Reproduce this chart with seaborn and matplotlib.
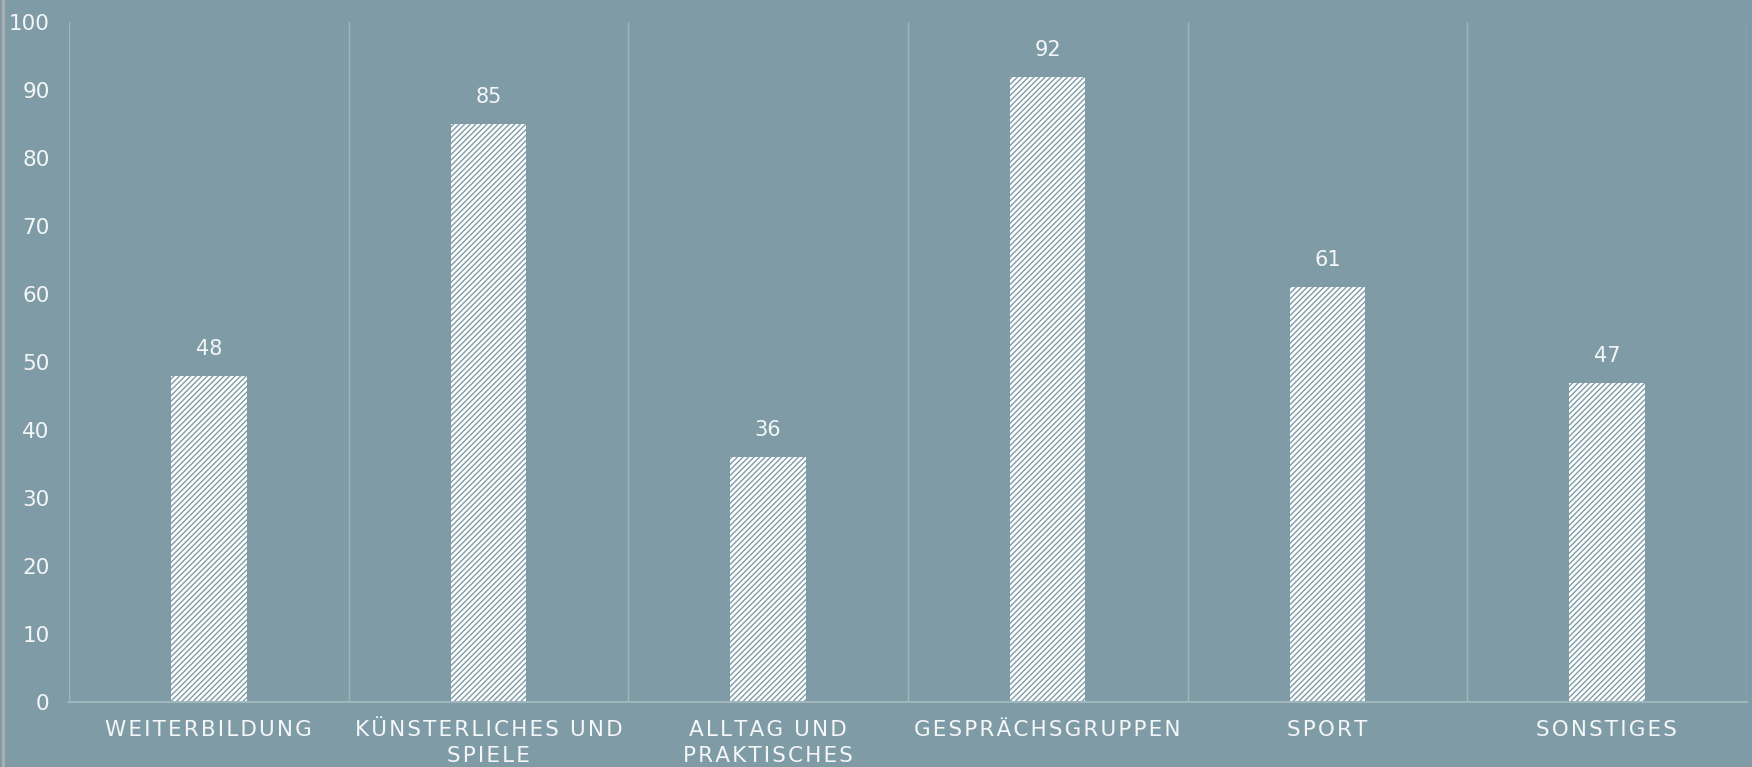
import pandas as pd
import matplotlib.pyplot as plt
import seaborn as sns

categories = ["WEITERBILDUNG", "KÜNSTERLICHES UND\nSPIELE", "ALLTAG UND\nPRAKTISCHES",
              "GESPRÄCHSGRUPPEN", "SPORT", "SONSTIGES"]
values = [48, 85, 36, 92, 61, 47]

bg = "#7f9ca6"
light = "#9fb6bd"
txt = "#f4f6f7"

sns.set_theme(style="white")
plt.rcParams["font.family"] = ["DejaVu Sans"]
plt.rcParams["hatch.linewidth"] = 1.0
plt.rcParams["hatch.color"] = bg


def spaced(s):
    # Excel-ish letter spacing with hair spaces
    return "\n".join("\u200a".join(line) for line in s.split("\n"))


df = pd.DataFrame({"cat": categories, "val": values})

fig = plt.figure(figsize=(17.52, 7.67), dpi=100, facecolor=bg)
ax = fig.add_axes([0.0394, 0.0847, 0.9576, 0.8863])
ax.set_facecolor(bg)

sns.barplot(data=df, x="cat", y="val", color="white", width=0.27, ax=ax,
            saturation=1)
for p in ax.patches:
    p.set_hatch("//////")
    p.set_edgecolor(bg)
    p.set_linewidth(0)

for i, v in enumerate(values):
    ax.text(i, v + 2.5, str(v), ha="center", va="bottom", fontsize=15, color=txt)

ax.set_ylim(0, 100)
ax.set_xlim(-0.5, len(categories) - 0.5)
ax.set_yticks(range(0, 101, 10))
for x in [i + 0.5 for i in range(-1, len(categories))]:
    ax.axvline(x, color=light, lw=1, zorder=0)

ax.set_xticks(range(len(categories)))
ax.set_xticklabels([spaced(c) for c in categories], linespacing=1.4)
ax.set_xlabel("")
ax.set_ylabel("")
ax.tick_params(axis="y", colors=txt, labelsize=15.5, length=0, pad=14)
ax.tick_params(axis="x", colors=txt, labelsize=15.5, length=0, pad=13)
for s in ["top", "right", "left"]:
    ax.spines[s].set_visible(False)
ax.spines["bottom"].set_color(light)
ax.spines["bottom"].set_linewidth(1.5)

fig.add_artist(plt.Line2D([0.0015, 0.0015], [0, 1], color="#b0b0b0", lw=2))

plt.savefig("out.png", dpi=100, facecolor=bg)
